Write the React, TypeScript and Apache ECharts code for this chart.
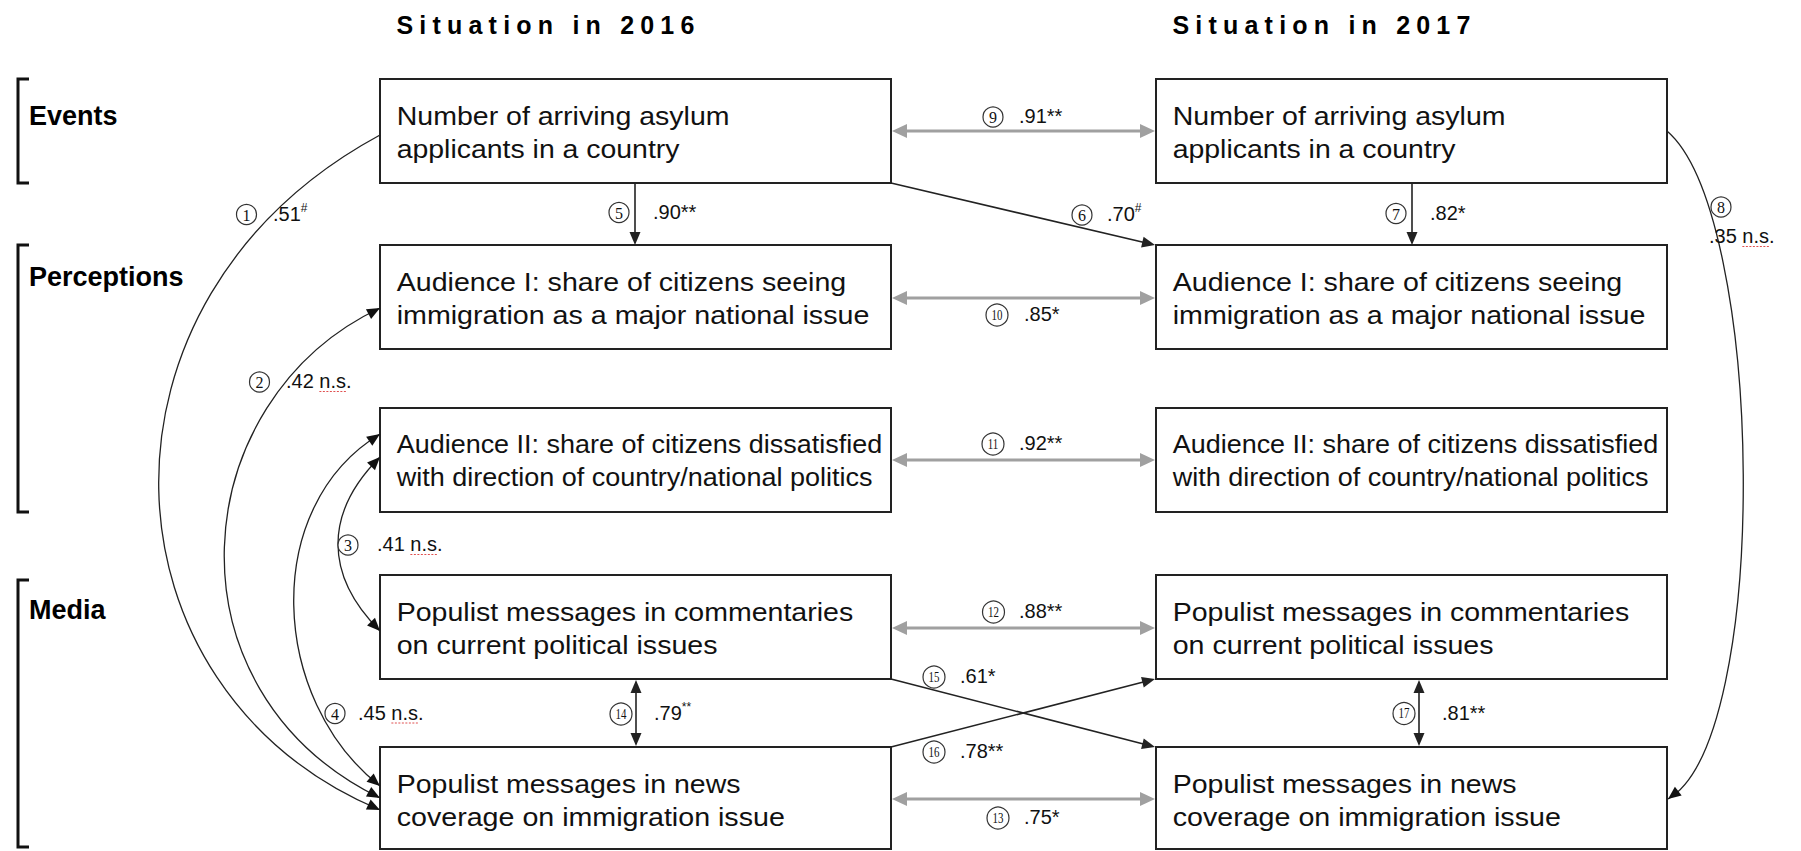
import React, { useEffect, useRef } from 'react';
import * as echarts from 'echarts';

// ---------------- data ----------------
const yearTitles = ['Situation in 2016', 'Situation in 2017'];
const rowLabels = ['Events', 'Perceptions', 'Media'];
const nodeLines = [
  ['Number of arriving asylum', 'applicants in a country'],
  ['Audience I: share of citizens seeing', 'immigration as a major national issue'],
  ['Audience II: share of citizens dissatisfied', 'with direction of country/national politics'],
  ['Populist messages in commentaries', 'on current political issues'],
  ['Populist messages in news', 'coverage on immigration issue'],
];
const pathNumbers = [1, 2, 3, 4, 5, 6, 7, 8, 9, 10, 11, 12, 13, 14, 15, 16, 17];
const pathCoefficients = ['.51', '.42', '.41', '.45', '.90', '.70', '.82', '.35', '.91', '.85', '.92', '.88', '.75', '.79', '.61', '.78', '.81'];
const pathSignificance = ['#', 'n.s.', 'n.s.', 'n.s.', '**', '#', '*', 'n.s.', '**', '*', '**', '**', '*', '**', '*', '**', '**'];

// ---------------- layout ----------------
const W = 1801;
const H = 851;
const FONT = 'Liberation Sans';
const colX = [380, 1156];
const boxW = 511;
const rowTop = [79, 245, 408, 575, 747];
const rowH = [104, 104, 104, 104, 102];
const brackets = [[79, 183], [245, 512], [580, 847]];
const rowLabelY = [115.5, 276.5, 609.5];
// rendered widths of each box text line in the reference (px)
const lineWidths = [[333, 283], [450, 473], [486, 476], [457, 321], [344, 388]];
const BOX_FONT = 26.5;
// superscripted significance marks (paths)
const supPaths = [1, 6, 14];

// label positions: [circle cx, circle cy, text x, text y?]
const labelPos: number[][] = [
  [246.5, 214.5, 273], [259.5, 382, 286], [348, 545, 377], [335, 713.5, 358],
  [619, 212.5, 653], [1082, 215, 1107], [1396, 213.5, 1430], [1721, 207, 1709, 236],
  [993, 117, 1019], [997, 315, 1024], [993, 444, 1019], [993.5, 612, 1019],
  [998, 818, 1024], [621, 714, 654], [934, 677, 960], [934, 752, 960], [1404, 713.5, 1442],
];

type Curve = { p0: number[]; c1: number[]; c2: number[]; p3: number[]; s: boolean; e: boolean };
const curves: Curve[] = [
  { p0: [380, 135], c1: [75, 300], c2: [95, 690], p3: [380, 810], s: false, e: true },
  { p0: [380, 308], c1: [185, 400], c2: [160, 690], p3: [380, 798], s: true, e: true },
  { p0: [380, 457], c1: [324, 513], c2: [324, 575], p3: [380, 631], s: true, e: true },
  { p0: [380, 434], c1: [260, 507], c2: [270, 700], p3: [380, 786], s: true, e: true },
  { p0: [1667, 131], c1: [1765, 215], c2: [1772, 740], p3: [1668, 799], s: false, e: true },
];

type Straight = { a: number[]; b: number[]; s: boolean; e: boolean; gray: boolean };
const straights: Straight[] = [
  { a: [635, 183], b: [635, 245], s: false, e: true, gray: false },
  { a: [891, 183], b: [1155, 245], s: false, e: true, gray: false },
  { a: [1412, 183], b: [1412, 245], s: false, e: true, gray: false },
  { a: [892, 131], b: [1155, 131], s: true, e: true, gray: true },
  { a: [892, 298], b: [1155, 298], s: true, e: true, gray: true },
  { a: [892, 460], b: [1155, 460], s: true, e: true, gray: true },
  { a: [892, 628], b: [1155, 628], s: true, e: true, gray: true },
  { a: [892, 799], b: [1155, 799], s: true, e: true, gray: true },
  { a: [636, 680], b: [636, 746], s: true, e: true, gray: false },
  { a: [891, 679], b: [1155, 747], s: false, e: true, gray: false },
  { a: [891, 747], b: [1155, 679], s: false, e: true, gray: false },
  { a: [1419, 680], b: [1419, 746], s: true, e: true, gray: false },
];

const DARK = '#222';
const GRAY = '#a0a0a0';

let measureCtx: CanvasRenderingContext2D | null = null;
function textWidth(t: string, font: string) {
  if (!measureCtx) measureCtx = document.createElement('canvas').getContext('2d');
  if (!measureCtx) return t.length * 10;
  measureCtx.font = font;
  return measureCtx.measureText(t).width;
}

function head(tip: number[], from: number[], L: number, hw: number, color: string) {
  const dx = tip[0] - from[0];
  const dy = tip[1] - from[1];
  const len = Math.hypot(dx, dy) || 1;
  const ux = dx / len;
  const uy = dy / len;
  const bx = tip[0] - ux * L;
  const by = tip[1] - uy * L;
  return {
    type: 'polygon',
    silent: true,
    shape: { points: [[tip[0], tip[1]], [bx - uy * hw, by + ux * hw], [bx + uy * hw, by - ux * hw]] },
    style: { fill: color, stroke: null },
  };
}

function bez(c: Curve, t: number) {
  const u = 1 - t;
  const a = u * u * u, b = 3 * u * u * t, d = 3 * u * t * t, e = t * t * t;
  return [
    a * c.p0[0] + b * c.c1[0] + d * c.c2[0] + e * c.p3[0],
    a * c.p0[1] + b * c.c1[1] + d * c.c2[1] + e * c.p3[1],
  ];
}

function txt(text: string, x: number, y: number, size: number, opts: any = {}) {
  return {
    type: 'text',
    silent: true,
    x,
    y,
    scaleX: opts.scaleX || 1,
    style: {
      text,
      x: 0,
      y: 0,
      fontSize: size,
      fontFamily: opts.family || FONT,
      fontWeight: opts.weight || 'normal',
      fill: opts.fill || '#111',
      align: opts.align || 'left',
      textAlign: opts.align || 'left',
      verticalAlign: 'middle',
      textVerticalAlign: 'middle',
      ...(opts.rich ? { rich: opts.rich } : {}),
    },
  };
}

function buildOption() {
  const els: any[] = [];

  // titles
  yearTitles.forEach((t, i) => {
    els.push(txt(t, colX[i] + 16.5, 24.5, 25, { weight: 'bold', fill: '#000' }));
  });

  // row labels + brackets
  rowLabels.forEach((t, i) => {
    const [t0, t1] = brackets[i];
    els.push({
      type: 'polyline',
      silent: true,
      shape: { points: [[29, t0], [18, t0], [18, t1], [29, t1]] },
      style: { stroke: '#111', lineWidth: 3, fill: null },
    });
    els.push(txt(t, 29, rowLabelY[i], 27, { weight: 'bold', fill: '#000' }));
  });

  // boxes
  const boxFont = BOX_FONT + 'px "' + FONT + '"';
  colX.forEach((x) => {
    rowTop.forEach((top, r) => {
      els.push({
        type: 'rect',
        silent: true,
        shape: { x, y: top, width: boxW, height: rowH[r] },
        style: { fill: '#fff', stroke: DARK, lineWidth: 2 },
      });
      [0, 1].forEach((li) => {
        const line = nodeLines[r][li];
        const natural = textWidth(line, boxFont);
        const sx = natural > 0 ? lineWidths[r][li] / natural : 1;
        els.push(txt(line, x + 16.7, top + (li === 0 ? 36.5 : 69.5), BOX_FONT, { fill: '#111', scaleX: sx }));
      });
    });
  });

  // curves
  curves.forEach((c) => {
    els.push({
      type: 'bezierCurve',
      silent: true,
      shape: { x1: c.p0[0], y1: c.p0[1], cpx1: c.c1[0], cpy1: c.c1[1], cpx2: c.c2[0], cpy2: c.c2[1], x2: c.p3[0], y2: c.p3[1] },
      style: { stroke: DARK, lineWidth: 1.3, fill: null },
    });
    if (c.e) els.push(head(c.p3, bez(c, 0.96), 13, 5.5, '#111'));
    if (c.s) els.push(head(c.p0, bez(c, 0.04), 13, 5.5, '#111'));
  });

  // straight arrows
  straights.forEach((s) => {
    const color = s.gray ? GRAY : DARK;
    const L = s.gray ? 15 : 13;
    const hw = s.gray ? 7 : 5.5;
    const dx = s.b[0] - s.a[0];
    const dy = s.b[1] - s.a[1];
    const len = Math.hypot(dx, dy);
    const ux = dx / len, uy = dy / len;
    const a = s.s ? [s.a[0] + ux * (L - 2), s.a[1] + uy * (L - 2)] : s.a;
    const b = s.e ? [s.b[0] - ux * (L - 2), s.b[1] - uy * (L - 2)] : s.b;
    els.push({
      type: 'line',
      silent: true,
      shape: { x1: a[0], y1: a[1], x2: b[0], y2: b[1] },
      style: { stroke: color, lineWidth: s.gray ? 3 : 1.6 },
    });
    if (s.e) els.push(head(s.b, s.a, L, hw, color));
    if (s.s) els.push(head(s.a, s.b, L, hw, color));
  });

  // path labels
  const labelFont = '20px "' + FONT + '"';
  pathNumbers.forEach((n, i) => {
    const [cx, cy, tx, tyOpt] = labelPos[i];
    const ty = tyOpt !== undefined ? tyOpt : cy - 1;
    const two = n >= 10;
    els.push({
      type: 'circle',
      silent: true,
      shape: { cx, cy, r: two ? 11 : 10 },
      style: { fill: '#fff', stroke: '#333', lineWidth: 1.2 },
    });
    els.push({
      type: 'text',
      silent: true,
      scaleX: two ? 0.78 : 1,
      x: cx,
      y: cy,
      style: {
        text: String(n),
        x: 0,
        y: 0.5,
        fontSize: two ? 14 : 16,
        fontFamily: 'Liberation Serif',
        fill: '#111',
        align: 'center',
        textAlign: 'center',
        verticalAlign: 'middle',
        textVerticalAlign: 'middle',
      },
    });
    const coef = pathCoefficients[i];
    const sig = pathSignificance[i];
    const rich = {
      v: { fontSize: 20, fontFamily: FONT, fill: '#111', lineHeight: 24 },
      s: { fontSize: 12, fontFamily: FONT, fill: '#111', lineHeight: 14, verticalAlign: 'top' },
    };
    if (sig === 'n.s.') {
      els.push(txt('{v|' + coef + ' n.s.}', tx, ty, 20, { rich }));
      const x0 = tx + textWidth(coef + ' ', labelFont);
      const x1 = x0 + textWidth('n.s', labelFont);
      els.push({
        type: 'line',
        silent: true,
        shape: { x1: x0, y1: ty + 10.5, x2: x1, y2: ty + 10.5 },
        style: { stroke: '#e05050', lineWidth: 1, lineDash: [2, 1.5] },
      });
    } else if (supPaths.indexOf(n) >= 0) {
      els.push(txt('{v|' + coef + '}{s|' + sig + '}', tx, ty, 20, { rich }));
    } else {
      els.push(txt('{v|' + coef + sig + '}', tx, ty, 20, { rich }));
    }
  });

  return {
    animation: false,
    backgroundColor: '#ffffff',
    graphic: { elements: els },
  };
}

export default function App() {
  const ref = useRef<HTMLDivElement>(null);
  useEffect(() => {
    document.body.style.margin = '0';
    document.body.style.overflow = 'hidden';
    const el = ref.current;
    if (!el) return;
    const chart = echarts.init(el, null, { renderer: 'svg', width: W, height: H });
    chart.setOption(buildOption());
    const applySpacing = () => {
      el.querySelectorAll('text').forEach((t) => {
        if (yearTitles.indexOf((t.textContent || '').trim()) >= 0) {
          t.setAttribute('letter-spacing', '6.2');
        }
      });
    };
    applySpacing();
    chart.on('finished', applySpacing);
    return () => {
      chart.dispose();
    };
  }, []);
  return <div ref={ref} style={{ width: W, height: H }} />;
}
